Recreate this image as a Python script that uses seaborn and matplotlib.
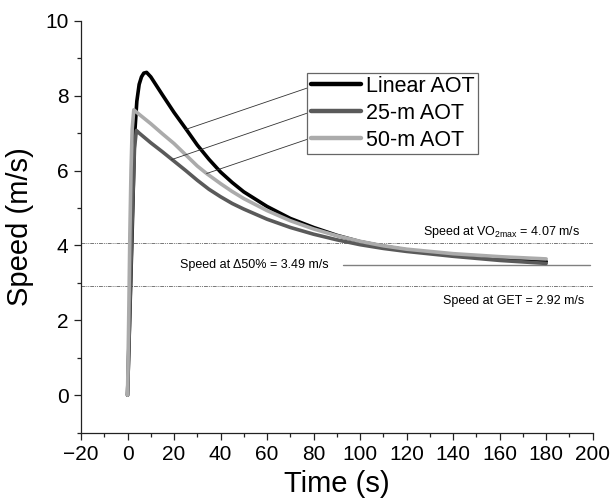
import numpy as np
import pandas as pd
import matplotlib
matplotlib.use("Agg")
import matplotlib.pyplot as plt
from matplotlib.ticker import MultipleLocator
from matplotlib.lines import Line2D
import seaborn as sns

# ---- data ----
t_linear = [0, 1, 2, 2.5, 3, 4, 5, 6, 7, 8.2, 10, 15, 20, 25, 30, 35, 40, 45, 50,
            60, 70, 80, 90, 100, 110, 120, 140, 160, 180]
v_linear = [0, 2.2, 4.4, 5.6, 6.9, 7.85, 8.3, 8.5, 8.6, 8.62, 8.5, 8.02, 7.55, 7.12,
            6.68, 6.3, 5.96, 5.68, 5.43, 5.04, 4.72, 4.48, 4.27, 4.1, 3.98, 3.88,
            3.73, 3.63, 3.57]

t_25m = [0, 1, 2, 3, 3.8, 5, 10, 15, 20, 25, 30, 35, 40, 45, 50, 60, 70, 80, 90,
         100, 110, 120, 140, 160, 180]
v_25m = [0, 2.3, 4.7, 6.6, 7.07, 7.0, 6.74, 6.5, 6.25, 6.0, 5.74, 5.5, 5.3, 5.12,
         4.97, 4.7, 4.48, 4.3, 4.15, 4.02, 3.92, 3.84, 3.71, 3.6, 3.52]

t_50m = [0, 0.5, 1, 1.5, 2, 2.7, 5, 10, 15, 20, 25, 30, 34, 40, 45, 50, 60, 70,
         80, 90, 100, 110, 120, 140, 160, 180]
v_50m = [0, 2.0, 4.3, 6.0, 7.1, 7.62, 7.5, 7.25, 6.98, 6.72, 6.42, 6.12, 5.92,
         5.65, 5.44, 5.25, 4.93, 4.66, 4.44, 4.26, 4.11, 3.99, 3.9, 3.78, 3.7, 3.64]

series_names = ["Linear AOT", "25-m AOT", "50-m AOT"]
series_colors = ["#000000", "#5a5a5a", "#ababab"]

speed_vo2max = 4.07
speed_d50 = 3.49
speed_get = 2.92

# leader line anchors: point on each curve -> left end of legend handle
leader_curve_t = [24.7, 18.9, 34.0]
leader_curve_v = [7.09, 6.29, 5.92]
leader_legend_t = [78.1, 78.1, 78.1]
leader_legend_v = [8.22, 7.55, 6.85]

df = pd.concat([
    pd.DataFrame({"Time": t_linear, "Speed": v_linear, "Test": series_names[0]}),
    pd.DataFrame({"Time": t_25m, "Speed": v_25m, "Test": series_names[1]}),
    pd.DataFrame({"Time": t_50m, "Speed": v_50m, "Test": series_names[2]}),
], ignore_index=True)

sns.set_theme(style="ticks")
plt.rcParams["font.family"] = ["Liberation Sans", "DejaVu Sans"]
plt.rcParams["mathtext.fontset"] = "custom"
plt.rcParams["mathtext.rm"] = "Liberation Sans"
plt.rcParams["mathtext.it"] = "Liberation Sans"
plt.rcParams["text.color"] = "black"
plt.rcParams["axes.labelcolor"] = "black"
plt.rcParams["xtick.color"] = "black"
plt.rcParams["ytick.color"] = "black"

fig = plt.figure(figsize=(6.11, 5.01), dpi=100)
ax = fig.add_axes([0.1326, 0.1363, 0.8374, 0.8224])

# reference lines
ax.axhline(speed_vo2max, color="#777777", lw=0.7, ls=(0, (4, 1, 1, 1, 1, 1)), zorder=1)
ax.axhline(speed_get, color="#777777", lw=0.7, ls=(0, (4, 1, 1, 1, 1, 1)), zorder=1)
ax.plot([92.6, 199], [speed_d50, speed_d50], color="#808080", lw=1.0, zorder=1)

sns.lineplot(data=df, x="Time", y="Speed", hue="Test", palette=series_colors,
             hue_order=series_names, sort=False, estimator=None, lw=2.6,
             ax=ax, legend=False, zorder=3)
for ln in ax.lines[3:]:
    ln.set_solid_capstyle("round")
    ln.set_solid_joinstyle("round")

# leader lines
for ct, cv, lt, lv in zip(leader_curve_t, leader_curve_v, leader_legend_t, leader_legend_v):
    ax.plot([ct, lt], [cv, lv], color="#333333", lw=0.6, zorder=4)

# annotations
ax.text(194.5, 4.14, r"Speed at VO$_{\mathrm{2max}}$ = %.2f m/s" % speed_vo2max,
        ha="right", va="bottom", fontsize=9)
ax.text(22.5, 3.47, "Speed at \u039450%% = %.2f m/s" % speed_d50,
        ha="left", va="center", fontsize=9)
ax.text(196.5, 2.68, "Speed at GET = %.2f m/s" % speed_get,
        ha="right", va="top", fontsize=9)

# legend
handles = [Line2D([], [], color=c, lw=3.2) for c in series_colors]
leg = ax.legend(handles, series_names, loc="upper left",
                bbox_to_anchor=(0.4423, 0.8738), borderaxespad=0,
                fontsize=15.5, frameon=True, fancybox=False, framealpha=1,
                edgecolor="#666666", handlelength=2.33, handletextpad=0.25,
                labelspacing=0.27, borderpad=0.15)
leg.get_frame().set_linewidth(0.9)
leg.set_zorder(5)

ax.set_xlim(-20, 200)
ax.set_ylim(-1, 10)
ax.xaxis.set_major_locator(MultipleLocator(20))
ax.xaxis.set_minor_locator(MultipleLocator(10))
ax.set_yticks([0, 2, 4, 6, 8, 10])
ax.yaxis.set_minor_locator(MultipleLocator(1))
ax.tick_params(which="major", direction="out", length=5, width=0.9, labelsize=15,
               pad=4, color="#222222")
ax.tick_params(which="minor", direction="out", length=3, width=0.9, color="#222222")
for s in ["left", "bottom"]:
    ax.spines[s].set_linewidth(0.9)
    ax.spines[s].set_color("#222222")
sns.despine(ax=ax)

ax.set_xlabel("Time (s)", fontsize=21, labelpad=4)
ax.set_ylabel("Speed (m/s)", fontsize=21, labelpad=8)

fig.savefig("out.png", dpi=100)
